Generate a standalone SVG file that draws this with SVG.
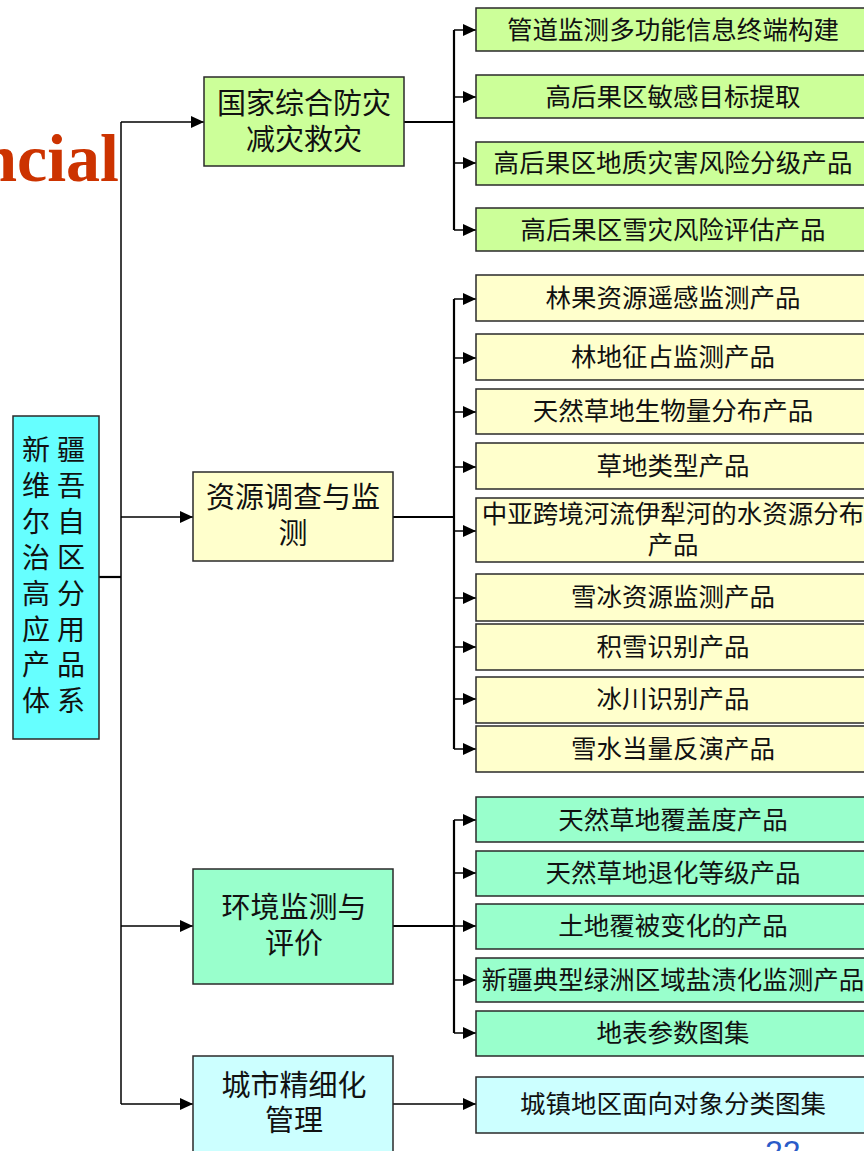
<svg xmlns="http://www.w3.org/2000/svg" width="864" height="1151" viewBox="0 0 864 1151">
<defs>
<marker id="ah" markerWidth="13" markerHeight="12" refX="13" refY="6" orient="auto" markerUnits="userSpaceOnUse">
<path d="M0,0 L13,6 L0,12 Z" fill="#000"/>
</marker>
<style>
.t{font-family:"Noto Sans CJK SC","Noto Sans",sans-serif;fill:#111;text-anchor:middle;dominant-baseline:central}
.r{font-size:25.5px}
.m{font-size:29px}
.root{font-size:28px;letter-spacing:7px}
.box{stroke:#2a2a2a;stroke-width:1.5}
.g1{fill:#CCFF99}
.g2{fill:#FFFFCC}
.g3{fill:#99FFCC}
.g4{fill:#CCFFFF}
.g0{fill:#66FFFF}
.c{stroke:#000;fill:none}
.thin{stroke-width:1.5}
.thick{stroke-width:2.2}
</style>
</defs>
<rect width="864" height="1151" fill="#fff"/>
<text x="119" y="181" font-family="Liberation Serif, serif" font-weight="bold" font-size="68" fill="#CC3300" text-anchor="end">ncial</text>
<text x="765" y="1163" font-family="Liberation Sans, sans-serif" font-size="32" fill="#2a5bc8">22</text>

<g id="connectors">
<path class="c thick" d="M99,577 H121"/>
<path class="c thin" d="M121,122 V1104"/>
<path class="c thin" d="M121,122 H204" marker-end="url(#ah)"/>
<path class="c thin" d="M121,517 H193" marker-end="url(#ah)"/>
<path class="c thin" d="M121,926 H193" marker-end="url(#ah)"/>
<path class="c thin" d="M121,1104 H193" marker-end="url(#ah)"/>

<path class="c thick" d="M404,122 H454 M454,30 V230"/>
<path class="c thin" d="M454,30 H476" marker-end="url(#ah)"/>
<path class="c thin" d="M454,97 H476" marker-end="url(#ah)"/>
<path class="c thin" d="M454,163 H476" marker-end="url(#ah)"/>
<path class="c thin" d="M454,230 H476" marker-end="url(#ah)"/>

<path class="c thick" d="M393,517 H454 M454,299 V749"/>
<path class="c thin" d="M454,299 H476" marker-end="url(#ah)"/>
<path class="c thin" d="M454,358 H476" marker-end="url(#ah)"/>
<path class="c thin" d="M454,412 H476" marker-end="url(#ah)"/>
<path class="c thin" d="M454,467 H476" marker-end="url(#ah)"/>
<path class="c thin" d="M454,531 H476" marker-end="url(#ah)"/>
<path class="c thin" d="M454,598 H476" marker-end="url(#ah)"/>
<path class="c thin" d="M454,647 H476" marker-end="url(#ah)"/>
<path class="c thin" d="M454,699 H476" marker-end="url(#ah)"/>
<path class="c thin" d="M454,749 H476" marker-end="url(#ah)"/>

<path class="c thick" d="M393,926 H454 M454,820 V1033"/>
<path class="c thin" d="M454,820 H476" marker-end="url(#ah)"/>
<path class="c thin" d="M454,873 H476" marker-end="url(#ah)"/>
<path class="c thin" d="M454,926 H476" marker-end="url(#ah)"/>
<path class="c thin" d="M454,980 H476" marker-end="url(#ah)"/>
<path class="c thin" d="M454,1033 H476" marker-end="url(#ah)"/>

<path class="c thin" d="M393,1104 H476" marker-end="url(#ah)"/>
</g>

<g id="root">
<rect class="box g0" x="13" y="416" width="86" height="323"/>
<text class="t root" x="57" y="448">新疆</text>
<text class="t root" x="57" y="484">维吾</text>
<text class="t root" x="57" y="520">尔自</text>
<text class="t root" x="57" y="556">治区</text>
<text class="t root" x="57" y="592">高分</text>
<text class="t root" x="57" y="628">应用</text>
<text class="t root" x="57" y="663">产品</text>
<text class="t root" x="57" y="699">体系</text>
</g>

<g id="n-disaster">
<rect class="box g1" x="204" y="77" width="200" height="89"/>
<text class="t m" x="304" y="101">国家综合防灾</text>
<text class="t m" x="304" y="137">减灾救灾</text>
</g>
<g id="n-resource">
<rect class="box g2" x="193" y="472" width="200" height="89"/>
<text class="t m" x="293" y="495">资源调查与监</text>
<text class="t m" x="293" y="531">测</text>
</g>
<g id="n-env">
<rect class="box g3" x="193" y="869" width="200" height="115"/>
<text class="t m" x="294" y="905">环境监测与</text>
<text class="t m" x="294" y="941">评价</text>
</g>
<g id="n-urban">
<rect class="box g4" x="193" y="1056" width="200" height="110"/>
<text class="t m" x="294" y="1083">城市精细化</text>
<text class="t m" x="294" y="1118">管理</text>
</g>

<g id="d1"><rect class="box g1" x="476" y="8" width="394" height="43"/><text class="t r" x="673" y="27" textLength="332" lengthAdjust="spacing">管道监测多功能信息终端构建</text></g>
<g id="d2"><rect class="box g1" x="476" y="75" width="394" height="43"/><text class="t r" x="673" y="94">高后果区敏感目标提取</text></g>
<g id="d3"><rect class="box g1" x="476" y="142" width="394" height="43"/><text class="t r" x="673" y="160" textLength="359" lengthAdjust="spacing">高后果区地质灾害风险分级产品</text></g>
<g id="d4"><rect class="box g1" x="476" y="208" width="394" height="43"/><text class="t r" x="673" y="227" textLength="305" lengthAdjust="spacing">高后果区雪灾风险评估产品</text></g>

<g id="r1"><rect class="box g2" x="476" y="275" width="394" height="46"/><text class="t r" x="673" y="295">林果资源遥感监测产品</text></g>
<g id="r2"><rect class="box g2" x="476" y="334" width="394" height="46"/><text class="t r" x="673" y="354">林地征占监测产品</text></g>
<g id="r3"><rect class="box g2" x="476" y="389" width="394" height="45"/><text class="t r" x="673" y="408">天然草地生物量分布产品</text></g>
<g id="r4"><rect class="box g2" x="476" y="443" width="394" height="46"/><text class="t r" x="673" y="463">草地类型产品</text></g>
<g id="r5"><rect class="box g2" x="476" y="498" width="394" height="64"/><text class="t r" x="673" y="511">中亚跨境河流伊犁河的水资源分布</text><text class="t r" x="673" y="542">产品</text></g>
<g id="r6"><rect class="box g2" x="476" y="574" width="394" height="47"/><text class="t r" x="673" y="594">雪冰资源监测产品</text></g>
<g id="r7"><rect class="box g2" x="476" y="624" width="394" height="46"/><text class="t r" x="673" y="644">积雪识别产品</text></g>
<g id="r8"><rect class="box g2" x="476" y="677" width="394" height="46"/><text class="t r" x="673" y="696">冰川识别产品</text></g>
<g id="r9"><rect class="box g2" x="476" y="726" width="394" height="46"/><text class="t r" x="673" y="746">雪水当量反演产品</text></g>

<g id="e1"><rect class="box g3" x="476" y="797" width="394" height="45"/><text class="t r" x="673" y="817">天然草地覆盖度产品</text></g>
<g id="e2"><rect class="box g3" x="476" y="851" width="394" height="45"/><text class="t r" x="673" y="870">天然草地退化等级产品</text></g>
<g id="e3"><rect class="box g3" x="476" y="904" width="394" height="45"/><text class="t r" x="673" y="923">土地覆被变化的产品</text></g>
<g id="e4"><rect class="box g3" x="476" y="958" width="394" height="44"/><text class="t r" x="673" y="977">新疆典型绿洲区域盐渍化监测产品</text></g>
<g id="e5"><rect class="box g3" x="476" y="1011" width="394" height="45"/><text class="t r" x="673" y="1030">地表参数图集</text></g>

<g id="u1"><rect class="box g4" x="476" y="1077" width="394" height="56"/><text class="t r" x="673" y="1101">城镇地区面向对象分类图集</text></g>
</svg>
